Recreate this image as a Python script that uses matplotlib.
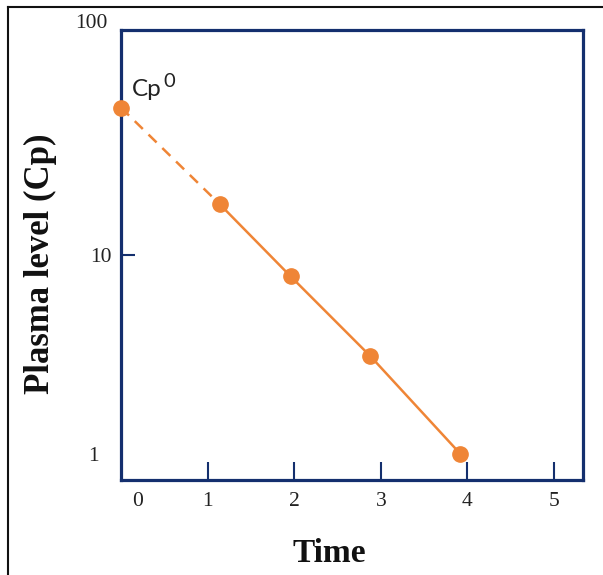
import matplotlib
matplotlib.use("Agg")
import matplotlib.pyplot as plt
import matplotlib.transforms as mtransforms
from matplotlib.lines import Line2D

# ---- data ----
time = [0.0, 1.14, 1.96, 2.88, 3.92]
cp = [55.0, 18.0, 7.8, 3.1, 1.0]
x_ticks = [0, 1, 2, 3, 4, 5]
x_tick_labels = ["0", "1", "2", "3", "4", "5"]
y_ticks = [1, 10]
y_tick_labels = ["1", "10"]
y_top_label = "100"
x_label = "Time"
y_label = "Plasma level (Cp)"
annot_main = "Cp"
annot_sup = "0"

NAVY = "#142f6e"
ORANGE = "#ef8536"

plt.rcParams["font.family"] = ["Liberation Serif", "DejaVu Serif"]

fig = plt.figure(figsize=(6.03, 5.75), dpi=100)
ax = fig.add_axes([121 / 603, 1 - 480 / 575, (583 - 121) / 603, (480 - 30) / 575])

ax.set_yscale("log")
ax.set_xlim(0, 5.335)
ax.set_ylim(0.740, 135.1)

# dashed extrapolation to Cp0, solid measured line
ax.plot(time[:2], cp[:2], color=ORANGE, lw=1.8, ls=(0, (4.5, 3.2)), zorder=3, clip_on=False)
ax.plot(time[1:], cp[1:], color=ORANGE, lw=1.8, zorder=3, clip_on=False)
ax.plot(time, cp, ls="none", marker="o", ms=11, color=ORANGE, mec=ORANGE, zorder=4, clip_on=False)

ax.annotate(annot_main, xy=(time[0], cp[0]), xytext=(7.5, 8.6), textcoords="offset points",
            ha="left", va="baseline", fontsize=17.5, family=["Lato", "DejaVu Sans"], color="#222222")
ax.annotate(annot_sup, xy=(time[0], cp[0]), xytext=(30.5, 15.0), textcoords="offset points",
            ha="left", va="baseline", fontsize=14.5, family=["Lato", "DejaVu Sans"], color="#222222")

# spines
for s in ax.spines.values():
    s.set_color(NAVY)
    s.set_linewidth(2.3)

# ticks
ax.set_xticks(x_ticks)
ax.set_xticklabels(x_tick_labels)
ax.set_yticks(y_ticks)
ax.set_yticklabels(y_tick_labels)
ax.minorticks_off()
ax.tick_params(axis="x", direction="in", length=13, width=1.5, color=NAVY,
               labelsize=15.5, labelcolor="#222222", pad=9)
ax.tick_params(axis="y", direction="in", length=10, width=1.5, color=NAVY,
               labelsize=15.5, labelcolor="#222222", pad=7)

# tick 0 on x and tick 1 on y have no tick marks; their labels are displaced
xt0 = ax.xaxis.get_major_ticks()[0]
xt0.tick1line.set_visible(False)
yt0 = ax.yaxis.get_major_ticks()[0]
yt0.tick1line.set_visible(False)
fig.canvas.draw()
xt0.label1.set_transform(xt0.label1.get_transform() +
                         mtransforms.ScaledTranslation(16.5 / 100, 0, fig.dpi_scale_trans))
yt0.label1.set_transform(yt0.label1.get_transform() +
                         mtransforms.ScaledTranslation(-12 / 100, 0, fig.dpi_scale_trans))

# "100" label at the top-left corner
ax.text(0, 1, y_top_label, transform=ax.transAxes + mtransforms.ScaledTranslation(-13 / 100, 6 / 100, fig.dpi_scale_trans),
        ha="right", va="center", fontsize=15.5, color="#222222")

# axis labels
ax.set_xlabel(x_label, fontsize=24, fontweight="bold", color="#111111")
ax.xaxis.label.set(va="center")
ax.xaxis.set_label_coords((329.5 - 121) / 462, (480 - 553) / 450)
ax.set_ylabel(y_label, fontsize=25, fontweight="bold", color="#111111")
ax.yaxis.label.set(va="center", ha="center", rotation_mode="default")
ax.yaxis.set_label_coords((40 - 121) / 462, (480 - 264) / 450)

# outer frame (top and left edges)
fig.add_artist(Line2D([8 / 603, 8 / 603], [0, 1 - 7 / 575], transform=fig.transFigure, color="#111111", lw=1.5))
fig.add_artist(Line2D([8 / 603, 1], [1 - 7 / 575, 1 - 7 / 575], transform=fig.transFigure, color="#111111", lw=1.5))

fig.savefig("out.png", dpi=100)
